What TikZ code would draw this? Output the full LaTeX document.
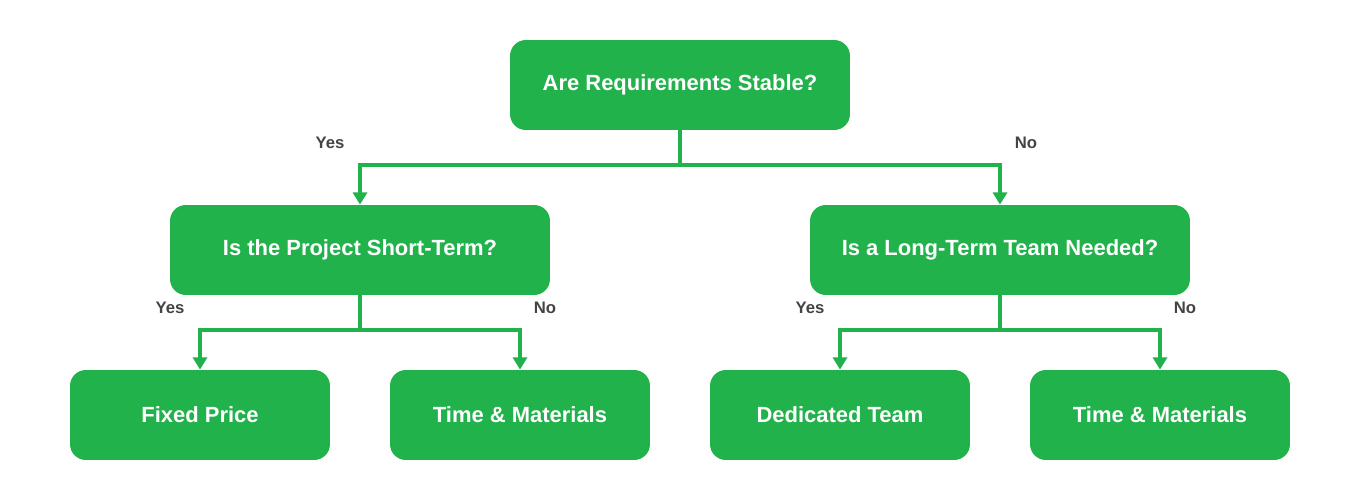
\documentclass[tikz,border=0pt]{standalone}
\usepackage{fontspec}
\setmainfont{Liberation Sans}
\usetikzlibrary{positioning,arrows.meta}
\definecolor{boxgreen}{HTML}{22B24C}
\definecolor{labgray}{HTML}{444444}
\tikzset{
  choice/.style={draw=none,fill=boxgreen,rounded corners=9pt,text=white,font=\bfseries\fontsize{12.5}{14}\selectfont,minimum height=1.8cm,align=center},
  branch/.style={font=\bfseries\fontsize{9.5}{11}\selectfont,text=labgray},
  link/.style={boxgreen,line width=2.2pt,->},
}
\begin{document}
\begin{tikzpicture}[>={Triangle[length=7pt,width=8pt]},x=0.02cm,y=-0.02cm]
  \useasboundingbox (0,0) rectangle (1360,500);

  \node (root) at (680,85) [choice,minimum width=6.8cm] {Are Requirements Stable?};
  \node (short) at (360,250) [choice,minimum width=7.6cm] {Is the Project Short-Term?};
  \node (long) at (1000,250) [choice,minimum width=7.6cm] {Is a Long-Term Team Needed?};
  \node (fixed) at (200,415) [choice,minimum width=5.2cm] {Fixed Price};
  \node (tm_a) at (520,415) [choice,minimum width=5.2cm] {Time \& Materials};
  \node (dedicated) at (840,415) [choice,minimum width=5.2cm] {Dedicated Team};
  \node (tm_b) at (1160,415) [choice,minimum width=5.2cm] {Time \& Materials};

  \coordinate (split_0) at (680,165);
  \coordinate (split_1) at (360,330);
  \coordinate (split_2) at (1000,330);

  \draw [boxgreen,line width=2.2pt] (root) -- (split_0);
  \draw [link] (split_0) -| (short.north);
  \draw [link] (split_0) -| (long.north);
  \draw [boxgreen,line width=2.2pt] (short) -- (split_1);
  \draw [link] (split_1) -| (fixed.north);
  \draw [link] (split_1) -| (tm_a.north);
  \draw [boxgreen,line width=2.2pt] (long) -- (split_2);
  \draw [link] (split_2) -| (dedicated.north);
  \draw [link] (split_2) -| (tm_b.north);

  \node (yes_0) at (330,143) [branch] {Yes};
  \node (no_0) at (1026,143) [branch] {No};
  \node (yes_1) at (170,308) [branch] {Yes};
  \node (no_1) at (545,308) [branch] {No};
  \node (yes_2) at (810,308) [branch] {Yes};
  \node (no_2) at (1185,308) [branch] {No};
%
\end{tikzpicture}
\end{document}
